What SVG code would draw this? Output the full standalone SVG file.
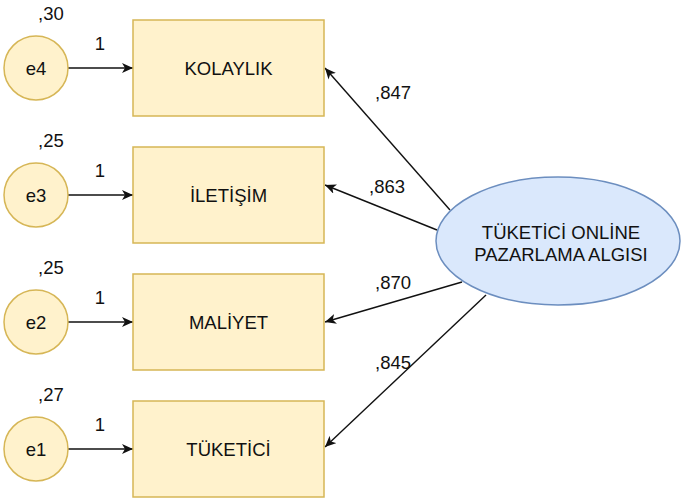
<svg xmlns="http://www.w3.org/2000/svg" width="681" height="499" viewBox="0 0 681 499">
<defs>
<style>
text{font-family:"Liberation Sans",Arial,sans-serif;font-size:18.5px;fill:#111;}
.c{text-anchor:middle;}
.box{fill:#fff2cc;stroke:#d6b656;stroke-width:1.5;}
.err{fill:#fff2cc;stroke:#d6b656;stroke-width:1.5;}
.lat{fill:#dae8fc;stroke:#6c8ebf;stroke-width:1.5;}
.edge{stroke:#111;stroke-width:1.4;fill:none;marker-end:url(#arr);}
</style>
<marker id="arr" viewBox="0 0 12 10" refX="11" refY="5" markerWidth="12" markerHeight="10" markerUnits="userSpaceOnUse" orient="auto">
<path d="M0,0 L11,5 L0,10 L3,5 z" fill="#111"/>
</marker>
</defs>

<g id="connectors">
<line class="edge" x1="68" y1="68" x2="133" y2="68"/>
<line class="edge" x1="68" y1="195" x2="133" y2="195"/>
<line class="edge" x1="68" y1="322" x2="133" y2="322"/>
<line class="edge" x1="68" y1="449" x2="133" y2="449"/>
<line class="edge" x1="450" y1="210" x2="325" y2="68"/>
<line class="edge" x1="437" y1="230" x2="325" y2="185"/>
<line class="edge" x1="462" y1="282" x2="325" y2="322"/>
<line class="edge" x1="486" y1="295" x2="325" y2="447"/>
</g>

<g id="labels">
<text x="38" y="20">,30</text>
<text x="38" y="147">,25</text>
<text x="38" y="274">,25</text>
<text x="38" y="401">,27</text>
<text x="100" y="50" class="c">1</text>
<text x="100" y="177" class="c">1</text>
<text x="100" y="304" class="c">1</text>
<text x="100" y="431" class="c">1</text>
<text x="375" y="98.5">,847</text>
<text x="369" y="192.5">,863</text>
<text x="375" y="288.5">,870</text>
<text x="375" y="368.5">,845</text>
</g>

<g id="e4"><circle class="err" cx="36" cy="68" r="32"/><text x="36" y="74.5" class="c">e4</text></g>
<g id="e3"><circle class="err" cx="36" cy="195" r="32"/><text x="36" y="201.5" class="c">e3</text></g>
<g id="e2"><circle class="err" cx="36" cy="322" r="32"/><text x="36" y="328.5" class="c">e2</text></g>
<g id="e1"><circle class="err" cx="36" cy="449" r="32"/><text x="36" y="455.5" class="c">e1</text></g>

<g id="kolaylik"><rect class="box" x="133" y="20" width="191" height="96"/><text x="228.5" y="74.5" class="c">KOLAYLIK</text></g>
<g id="iletisim"><rect class="box" x="133" y="147" width="191" height="96"/><text x="228.5" y="201.5" class="c">İLETİŞİM</text></g>
<g id="maliyet"><rect class="box" x="133" y="274" width="191" height="96"/><text x="228.5" y="328.5" class="c">MALİYET</text></g>
<g id="tuketici"><rect class="box" x="133" y="401" width="191" height="96"/><text x="228.5" y="455.5" class="c">TÜKETİCİ</text></g>

<g id="latent">
<ellipse class="lat" cx="558" cy="241" rx="122" ry="64"/>
<text x="561" y="239" class="c">TÜKETİCİ ONLİNE</text>
<text x="561" y="261" class="c">PAZARLAMA ALGISI</text>
</g>
</svg>
